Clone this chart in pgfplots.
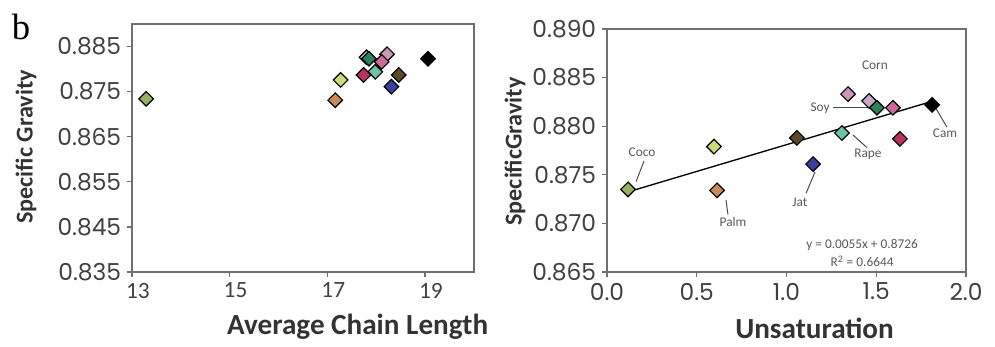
\documentclass[border=0pt]{standalone}
\usepackage{pgfplots}
\pgfplotsset{compat=1.18}
\usepackage{fontspec}
\setmainfont{Carlito}
\newfontfamily\tickfont{Poppins}
\newfontfamily\bfont{Liberation Serif}

\definecolor{ccoco}{HTML}{98B060}
\definecolor{cyg}{HTML}{C8DC78}
\definecolor{cpalm}{HTML}{C98A5A}
\definecolor{cbrown}{HTML}{5B4A2A}
\definecolor{cjat}{HTML}{3D3F9C}
\definecolor{crape}{HTML}{6CC4A4}
\definecolor{ccorn}{HTML}{C99AB8}
\definecolor{clav}{HTML}{C4AAC4}
\definecolor{csoy}{HTML}{2F7F5F}
\definecolor{cmag}{HTML}{CC6A9A}
\definecolor{ccrim}{HTML}{B8345A}
\definecolor{ccam}{HTML}{000000}
\definecolor{axgray}{HTML}{707070}

\tikzset{ann/.style={font=\fontsize{8}{9}\selectfont, text=black!65}}
\pgfplotsset{
  dia/.style={only marks, mark=square*, mark size=3.1pt,
    mark options={rotate=45, fill=#1, draw=black, line width=0.7pt}},
  myax/.style={
    scale only axis,
    axis line style={draw=axgray, line width=1pt},
    tick align=outside, xtick pos=bottom, ytick pos=left,
    major tick length=3pt,
    tick style={axgray, line width=0.8pt},
    ticklabel style={font=\tickfont\fontsize{14}{14}\selectfont, text=black!75},
    /pgf/number format/assume math mode=true,
    label style={font=\bfseries\fontsize{17.5}{17.5}\selectfont, text=black!80},
    scaled y ticks=false, scaled x ticks=false,
    y tick label style={/pgf/number format/.cd, fixed, fixed zerofill, precision=3},
    clip=false,
  },
}

\begin{document}
\begin{tikzpicture}
\begin{axis}[myax,
  name=L, at={(0pt,0pt)}, anchor=south west,
  width=205.2pt, height=148.8pt,
  xmin=13, xmax=20, ymin=0.835, ymax=0.890,
  xtick={13,15,17,19},
  x tick label style={font=\fontsize{14}{14}\selectfont, xshift=3.5pt},
  ytick={0.835,0.845,0.855,0.865,0.875,0.885},
  xlabel={Average Chain Length},
  ylabel={Specific Gravity},
  xlabel style={at={(axis description cs:0.66,-0.222)}, anchor=center},
  ylabel style={at={(axis description cs:-0.31,0.504)}, anchor=center, font=\bfseries\fontsize{14.5}{14.5}\selectfont},
]
\addplot[dia=ccoco] coordinates {(13.29,0.8734)};
\addplot[dia=cyg] coordinates {(17.27,0.8776)};
\addplot[dia=cpalm] coordinates {(17.16,0.8731)};
\addplot[dia=cbrown] coordinates {(18.46,0.8787)};
\addplot[dia=cjat] coordinates {(18.31,0.8761)};
\addplot[dia=clav] coordinates {(17.80,0.8826)};
\addplot[dia=csoy] coordinates {(17.85,0.8823)};
\addplot[dia=crape] coordinates {(17.98,0.8794)};
\addplot[dia=ccrim] coordinates {(17.74,0.8787)};
\addplot[dia=ccorn] coordinates {(18.22,0.8833)};
\addplot[dia=cmag] coordinates {(18.11,0.8816)};
\addplot[dia=ccam] coordinates {(19.06,0.8823)};
\end{axis}

\begin{axis}[myax,
  name=R, at={(285pt,0pt)}, anchor=south west,
  width=215.4pt, height=145.8pt,
  xmin=0, xmax=2, ymin=0.865, ymax=0.890,
  xtick={0,0.5,1,1.5,2},
  x tick label style={/pgf/number format/.cd, fixed, fixed zerofill, precision=1},
  ytick={0.865,0.870,0.875,0.880,0.885,0.890},
  xlabel={Unsaturation},
  ylabel={SpecificGravity},
  xlabel style={at={(axis description cs:0.578,-0.232)}, anchor=center},
  ylabel style={at={(axis description cs:-0.256,0.496)}, anchor=center, font=\bfseries\fontsize{14.5}{14.5}\selectfont},
]
\addplot[black, line width=0.8pt, no marks] coordinates {(0.117,0.87324) (1.811,0.88256)};
\addplot[dia=ccoco] coordinates {(0.117,0.8735)};
\addplot[dia=cyg] coordinates {(0.596,0.8779)};
\addplot[dia=cpalm] coordinates {(0.613,0.8734)};
\addplot[dia=cbrown] coordinates {(1.058,0.8788)};
\addplot[dia=cjat] coordinates {(1.148,0.8761)};
\addplot[dia=crape] coordinates {(1.309,0.8793)};
\addplot[dia=ccorn] coordinates {(1.343,0.8833)};
\addplot[dia=clav] coordinates {(1.460,0.8826)};
\addplot[dia=csoy] coordinates {(1.504,0.8819)};
\addplot[dia=cmag] coordinates {(1.593,0.8819)};
\addplot[dia=ccrim] coordinates {(1.632,0.8787)};
\addplot[dia=ccam] coordinates {(1.811,0.8822)};
% annotations
\node[ann] at (axis cs:1.493,0.8863) {Corn};
\node[ann] at (axis cs:1.187,0.8818) {Soy};
\draw[black!70, line width=0.6pt] (axis cs:1.259,0.8819) -- (axis cs:1.49,0.8819);
\node[ann] at (axis cs:1.883,0.8793) {Cam};
\draw[black!70, line width=0.6pt] (axis cs:1.827,0.8820) -- (axis cs:1.894,0.8799);
\node[ann] at (axis cs:1.454,0.8771) {Rape};
\draw[black!70, line width=0.6pt] (axis cs:1.370,0.8791) -- (axis cs:1.448,0.8778);
\node[ann] at (axis cs:0.195,0.8773) {Coco};
\draw[black!70, line width=0.6pt] (axis cs:0.206,0.8764) -- (axis cs:0.162,0.8743);
\node[ann] at (axis cs:0.702,0.8702) {Palm};
\draw[black!70, line width=0.6pt] (axis cs:0.663,0.8724) -- (axis cs:0.674,0.8709);
\node[ann] at (axis cs:1.075,0.8722) {Jat};
\draw[black!70, line width=0.6pt] (axis cs:1.159,0.8753) -- (axis cs:1.109,0.8731);
\node[ann] at (axis cs:1.421,0.8678) {y = 0.0055x + 0.8726};
\node[ann] at (axis cs:1.421,0.8661) {R\textsuperscript{2} = 0.6644};
\end{axis}
\node[font=\bfont\fontsize{22}{22}\selectfont, anchor=center] at (-66.6pt,147.3pt) {b};
\pgfresetboundingbox
\path[use as bounding box] (-79.2pt,-45pt) rectangle (517.8pt,163.2pt);
\end{tikzpicture}
\end{document}
